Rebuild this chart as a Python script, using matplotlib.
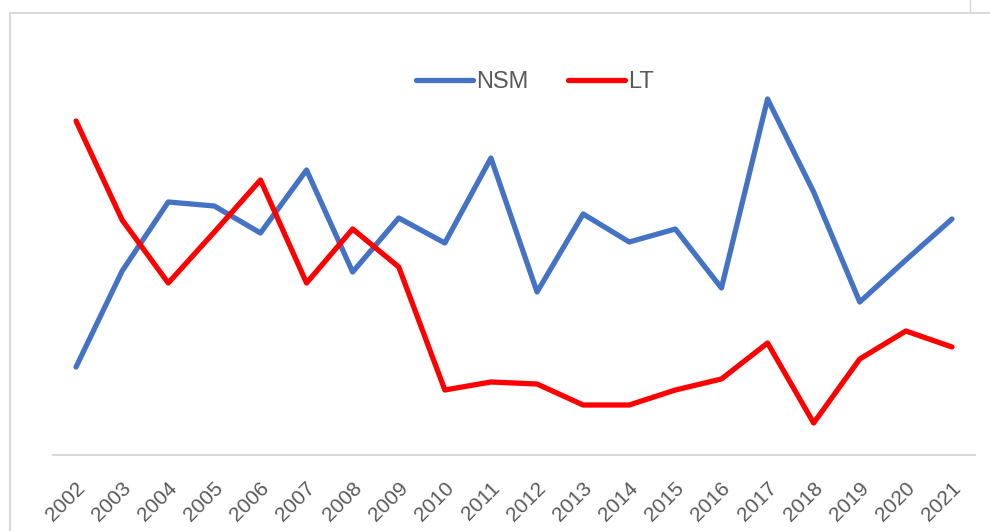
import matplotlib
matplotlib.use("Agg")
import matplotlib.pyplot as plt
from matplotlib.lines import Line2D
from matplotlib.transforms import ScaledTranslation

years = [str(y) for y in range(2002, 2022)]
nsm = [8.8, 18.4, 25.3, 24.9, 22.2, 28.5, 18.3, 23.7, 21.2, 29.7,
       16.3, 24.1, 21.3, 22.6, 16.7, 35.6, 26.3, 15.3, 19.5, 23.6]
lt = [33.4, 23.5, 17.2, 22.3, 27.5, 17.2, 22.6, 18.8, 6.5, 7.3,
      7.1, 5.0, 5.0, 6.5, 7.6, 11.2, 3.2, 9.6, 12.4, 10.8]

W, H, DPI = 990, 531, 100
fig = plt.figure(figsize=(W / DPI, H / DPI), dpi=DPI)
fig.patch.set_facecolor("white")

left, right, bottom, top = 53, 975, 455, 30
ax = fig.add_axes([left / W, 1 - bottom / H, (right - left) / W, (bottom - top) / H])

x = list(range(len(years)))
ax.plot(x, nsm, color="#4472C4", lw=3.8, solid_joinstyle="round",
        solid_capstyle="round", label="NSM")
ax.plot(x, lt, color="#FF0000", lw=3.8, solid_joinstyle="round",
        solid_capstyle="round", label="LT")

ax.set_xlim(-0.5, len(years) - 0.5)
ax.set_ylim(0, 42.5)
ax.set_yticks([])
for s in ["top", "right", "left"]:
    ax.spines[s].set_visible(False)
ax.spines["bottom"].set_color("#D9D9D9")
ax.spines["bottom"].set_linewidth(1.5)
ax.set_xticks(x)
ax.tick_params(axis="x", length=0, pad=22)
ax.set_xticklabels(years, rotation=45, ha="right", va="center",
                   rotation_mode="anchor", fontsize=15,
                   family="Liberation Sans", color="#595959")
off = ScaledTranslation(6 / DPI, 0, fig.dpi_scale_trans)
for lab in ax.get_xticklabels():
    lab.set_transform(lab.get_transform() + off)

leg = fig.legend(loc="center", bbox_to_anchor=(535 / W, 1 - 82 / H),
                 ncol=2, frameon=False, handlelength=2.4, handletextpad=0.12,
                 columnspacing=1.7, prop={"family": "Liberation Sans", "size": 17})
for t in leg.get_texts():
    t.set_color("#595959")

# chart border lines
fig.add_artist(Line2D([10 / W, 10 / W], [0, 1 - 13 / H], transform=fig.transFigure,
                      color="#D9D9D9", lw=1.5))
fig.add_artist(Line2D([10 / W, 1], [1 - 13 / H, 1 - 13 / H], transform=fig.transFigure,
                      color="#D9D9D9", lw=1.5))
fig.add_artist(Line2D([970 / W, 970 / W], [1 - 11 / H, 1], transform=fig.transFigure,
                      color="#D9D9D9", lw=1.0))

fig.savefig("out.png", dpi=DPI)
